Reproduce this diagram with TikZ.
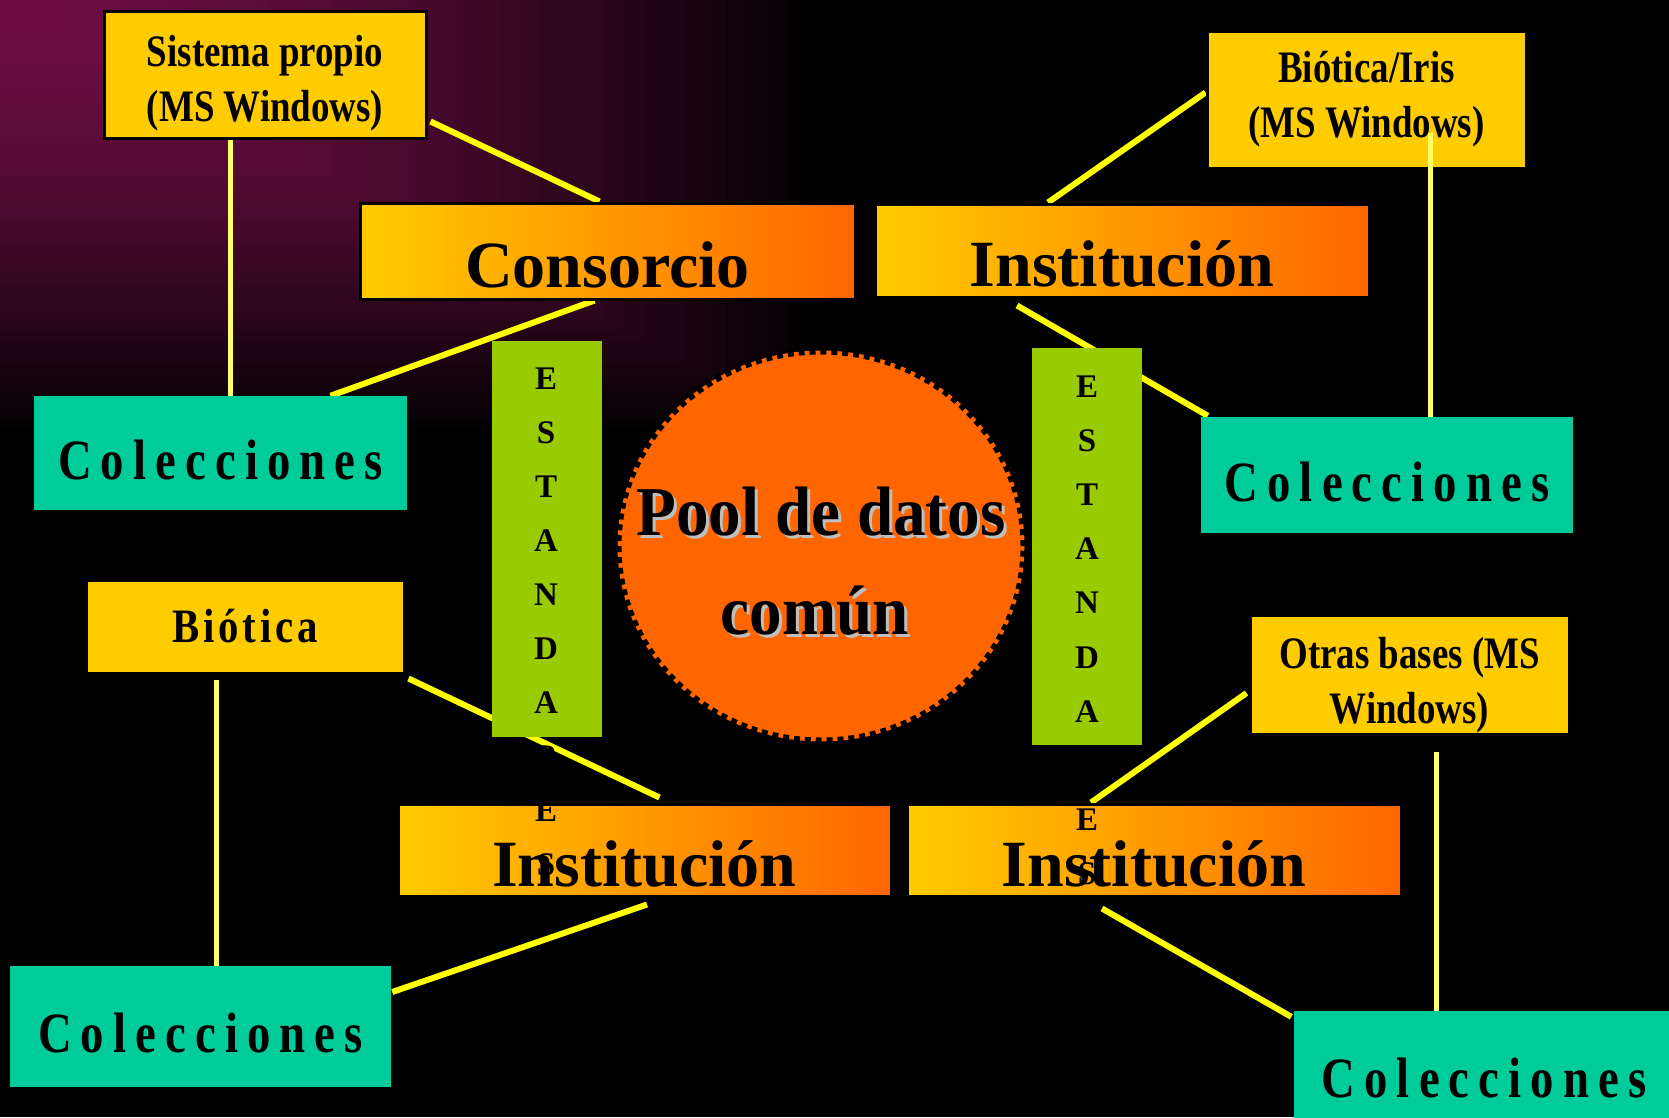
\documentclass[tikz,border=0pt]{standalone}
\usepackage{fontspec}
\setmainfont{Liberation Serif}
\newfontfamily\estrecha[FakeStretch=0.82]{Liberation Serif}
\newfontfamily\espaciada[FakeStretch=0.82,LetterSpace=16]{Liberation Serif}
\newfontfamily\biofuente[FakeStretch=0.85,LetterSpace=8]{Liberation Serif}
\newfontfamily\poolfuente[FakeStretch=0.93]{Liberation Serif}
\usetikzlibrary{calc,positioning,shapes.geometric}
\definecolor{amarillo}{HTML}{FFCC00}
\definecolor{naranja}{HTML}{FF6600}
\definecolor{verde}{HTML}{99CC00}
\definecolor{turquesa}{HTML}{00CC99}
\definecolor{linea}{HTML}{FFFF00}
\definecolor{lineaclara}{HTML}{FFFF66}
\definecolor{granate}{HTML}{6E0E44}
\definecolor{sombra}{HTML}{BFBFBF}
\pgfdeclarelayer{fondo}
\pgfdeclarelayer{lineas}
\pgfsetlayers{fondo,lineas,main}

\begin{document}
\begin{tikzpicture}[x=1pt,y=-1pt,every node/.style={inner sep=0pt,align=center},
    caja/.style={draw=black,line width=3pt,fill=amarillo,font=\estrecha\bfseries\fontsize{45}{55}\selectfont},
    banda/.style={draw=black,line width=3pt,left color=amarillo,right color=naranja,font=\bfseries\fontsize{66}{66}\selectfont,text height=72pt,text depth=0pt},
    colec/.style={fill=turquesa,font=\espaciada\bfseries\fontsize{57}{57}\selectfont,text height=52pt,text depth=0pt},
    estandar/.style={fill=verde,minimum width=110pt},
    letra/.style={anchor=base,font=\bfseries\fontsize{33}{33}\selectfont},
    pooltexto/.style={anchor=base,font=\poolfuente\bfseries\fontsize{70}{70}\selectfont},
    enlace/.style={linea,line width=6pt},
    vertical/.style={lineaclara,line width=5pt}]

    \useasboundingbox (0,0) rectangle (1669,1117);

    \begin{pgfonlayer}{fondo}
    \fill[black] (0,0) rectangle (1669,1117);
    \foreach \t [evaluate=\t as \p using {int(100*(1-(\t/40)^1.6))}] in {40,39,...,1}
      \fill[granate!\p!black] (0,0) rectangle ({20.75*\t},{11*\t});
    \end{pgfonlayer}

    \node[caja,minimum width=322pt,minimum height=127pt] (SISTEMA) at (265,74.5) {\rule{0pt}{48pt}Sistema propio\\(MS Windows)};
    \node[caja,minimum width=319pt,minimum height=137pt] (IRIS) at (1366.5,99.5) {Biótica/Iris\\(MS Windows)};
    \node[caja,minimum width=318pt,minimum height=93pt,font=\biofuente\bfseries\fontsize{48}{48}\selectfont] (BIOTICA) at (245,626.5) {Biótica};
    \node[caja,minimum width=319pt,minimum height=119pt] (OTRAS) at (1409.5,674.5) {\rule{0pt}{52pt}Otras bases (MS\\Windows)};

    \node[banda,minimum width=495pt,minimum height=96pt] (CONSORCIO) at (607.5,251) {Consorcio};
    \node[banda,minimum width=494pt,minimum height=93pt] (INSTA) at (1122,250.5) {Institución};
    \node[banda,minimum width=493pt,minimum height=92pt] (INSTB) at (644.5,850) {Institución};
    \node[banda,minimum width=494pt,minimum height=92pt] (INSTC) at (1154,850) {Institución};

    \node[colec,minimum width=373pt,minimum height=114pt] (COLA) at (220.5,453) {Colecciones};
    \node[colec,minimum width=372pt,minimum height=116pt] (COLB) at (1387,475) {Colecciones};
    \node[colec,minimum width=381pt,minimum height=121pt] (COLC) at (200.5,1026.5) {Colecciones};
    \node[colec,minimum width=381pt,minimum height=120pt] (COLD) at (1484,1071) {Colecciones};

    \node[estandar,minimum height=396pt] (ESTA) at (547,539) {};
    \node[estandar,minimum height=397pt] (ESTB) at (1087,546.5) {};

    \node[ellipse,fill=naranja,draw=black,line width=8pt,dash pattern=on 6pt off 5pt,minimum width=407pt,minimum height=391pt] (POOL) at (821,546) {};
    \node[pooltexto,text=sombra] (POOLS1) at ($(POOL.center)+(3,-8)$) {Pool de datos};
    \node[pooltexto,text=sombra] (POOLS2) at ($(POOL.center)+(-3,91)$) {común};
    \node[pooltexto] (POOL1) at ($(POOL.center)+(0,-11)$) {Pool de datos};
    \node[pooltexto] (POOL2) at ($(POOL.center)+(-6,88)$) {común};

    \coordinate (S1) at ([xshift=-35pt]SISTEMA.south);
    \coordinate (B1) at ($(BIOTICA.south)+(-29,5)$);
    \coordinate (O1) at ($(OTRAS.south)+(26.5,16)$);
    \coordinate (I1) at ($(IRIS.south)+(63.5,-37)$);

    \begin{pgfonlayer}{lineas}
    \draw[vertical] (S1) -- (S1 |- COLA.north);
    \draw[enlace] ($(SISTEMA.south east)+(3,-18)$) -- ([xshift=-8pt]CONSORCIO.north);
    \draw[enlace] ([xshift=-13pt]CONSORCIO.south) -- ([xshift=110pt]COLA.north);
    \draw[enlace] ($(IRIS.west)+(0,-7)$) -- ([xshift=-74pt]INSTA.north);
    \draw[enlace] ($(INSTA.south)+(-105,7)$) -- ($(COLB.north west)+(7,-1)$);
    \draw[enlace] ($(BIOTICA.south east)+(3,4)$) -- ($(INSTB.north)+(15,-5)$);
    \draw[enlace] ($(INSTB.south)+(2.5,7)$) -- ($(COLC.east)+(1,-34.5)$);
    \draw[vertical] (B1) -- (B1 |- COLC.north);
    \draw[enlace] ($(OTRAS.west)+(-2,18.5)$) -- ([xshift=-63pt]INSTC.north);
    \draw[enlace] ($(INSTC.south)+(-52,11)$) -- ($(COLD.north west)+(-2,6)$);
    \draw[vertical] (O1) -- (O1 |- COLD.north);
    \end{pgfonlayer}

    \draw[vertical] (I1) -- (I1 |- COLB.north);

    \foreach \l [count=\i] in {E,S,T,A,N,D,A,R,E,S} {
      \node[letra] (LA\i) at (546,{389+54*(\i-1)}) {\l};
      \node[letra] (LB\i) at (1087,{397+54.2*(\i-1)}) {\l};
    }
  \end{tikzpicture}
\end{document}
